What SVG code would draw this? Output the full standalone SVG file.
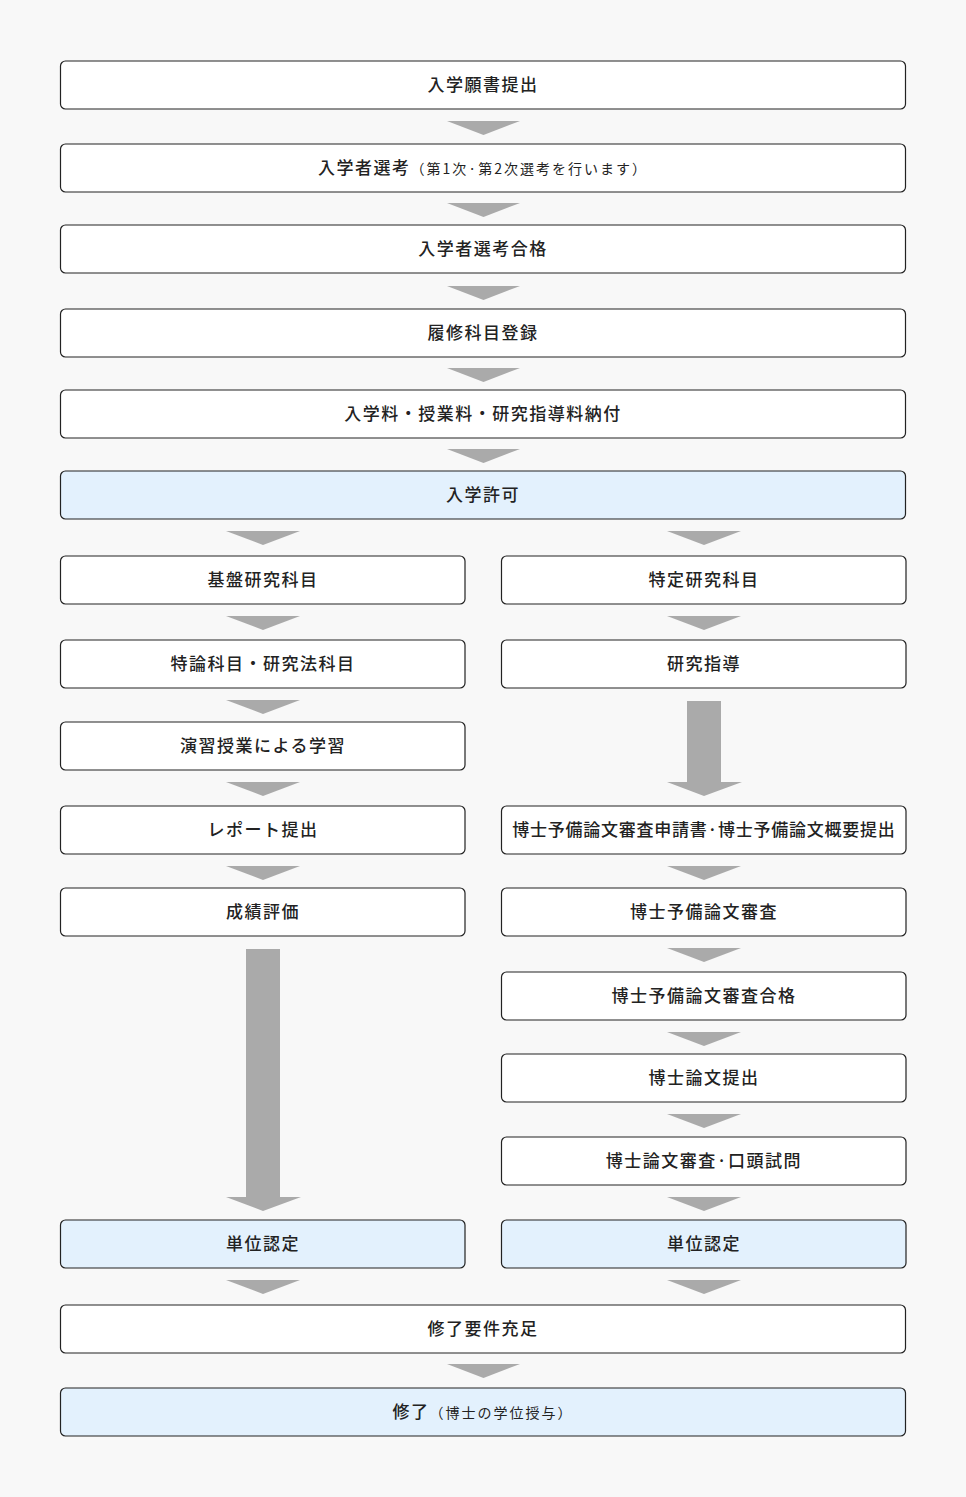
<svg xmlns="http://www.w3.org/2000/svg" width="966" height="1497" viewBox="0 0 966 1497">
<style>
.b{fill:#fff;stroke:#222;stroke-width:1.2}
.h{fill:#e3f1fd;stroke:#222;stroke-width:1.2}
.t{font-family:"Noto Sans CJK JP","Noto Sans",sans-serif;font-size:17px;font-weight:500;fill:#222;text-anchor:middle;letter-spacing:1.5px}
.s{font-size:14px;font-weight:400;letter-spacing:2px}
.a{fill:#aaa}
</style>
<rect width="966" height="1497" fill="#f8f8f8"/>
<g id="connectors">
<polygon class="a" points="447,121 520,121 483.5,135"/>
<polygon class="a" points="447,203 520,203 483.5,217"/>
<polygon class="a" points="447,286 520,286 483.5,300"/>
<polygon class="a" points="447,368 520,368 483.5,382"/>
<polygon class="a" points="447,449 520,449 483.5,463"/>
<polygon class="a" points="226,531 300,531 263,545"/>
<polygon class="a" points="667,531 741,531 704,545"/>
<polygon class="a" points="226,616 300,616 263,630"/>
<polygon class="a" points="667,616 741,616 704,630"/>
<polygon class="a" points="226,700 300,700 263,714"/>
<polygon class="a" points="226,782 300,782 263,796"/>
<polygon class="a" points="687,701 721,701 721,782 742,782 704,796 667,782 687,782"/>
<polygon class="a" points="226,866 300,866 263,880"/>
<polygon class="a" points="667,866 741,866 704,880"/>
<polygon class="a" points="246,949 280,949 280,1197 301,1197 263,1211 226,1197 246,1197"/>
<polygon class="a" points="667,948 741,948 704,962"/>
<polygon class="a" points="667,1032 741,1032 704,1046"/>
<polygon class="a" points="667,1114 741,1114 704,1128"/>
<polygon class="a" points="667,1197 741,1197 704,1211"/>
<polygon class="a" points="226,1280 300,1280 263,1294"/>
<polygon class="a" points="667,1280 741,1280 704,1294"/>
<polygon class="a" points="447,1364 520,1364 483.5,1378"/>
</g>
<g id="n1"><rect class="b" x="60.5" y="61" width="845" height="48" rx="5"/><text class="t" x="483" y="91">入学願書提出</text></g>
<g id="n2"><rect class="b" x="60.5" y="144" width="845" height="48" rx="5"/><text class="t" x="483" y="174">入学者選考<tspan class="s">（第1次·第2次選考を行います）</tspan></text></g>
<g id="n3"><rect class="b" x="60.5" y="225" width="845" height="48" rx="5"/><text class="t" x="483" y="255">入学者選考合格</text></g>
<g id="n4"><rect class="b" x="60.5" y="309" width="845" height="48" rx="5"/><text class="t" x="483" y="339">履修科目登録</text></g>
<g id="n5"><rect class="b" x="60.5" y="390" width="845" height="48" rx="5"/><text class="t" x="483" y="420">入学料・授業料・研究指導料納付</text></g>
<g id="n6"><rect class="h" x="60.5" y="471" width="845" height="48" rx="5"/><text class="t" x="483" y="501">入学許可</text></g>
<g id="l1"><rect class="b" x="60.5" y="556" width="404.5" height="48" rx="5"/><text class="t" x="263" y="586">基盤研究科目</text></g>
<g id="l2"><rect class="b" x="60.5" y="640" width="404.5" height="48" rx="5"/><text class="t" x="263" y="670">特論科目・研究法科目</text></g>
<g id="l3"><rect class="b" x="60.5" y="722" width="404.5" height="48" rx="5"/><text class="t" x="263" y="752">演習授業による学習</text></g>
<g id="l4"><rect class="b" x="60.5" y="806" width="404.5" height="48" rx="5"/><text class="t" x="263" y="836">レポート提出</text></g>
<g id="l5"><rect class="b" x="60.5" y="888" width="404.5" height="48" rx="5"/><text class="t" x="263" y="918">成績評価</text></g>
<g id="l6"><rect class="h" x="60.5" y="1220" width="404.5" height="48" rx="5"/><text class="t" x="263" y="1250">単位認定</text></g>
<g id="r1"><rect class="b" x="501.5" y="556" width="404.5" height="48" rx="5"/><text class="t" x="704" y="586">特定研究科目</text></g>
<g id="r2"><rect class="b" x="501.5" y="640" width="404.5" height="48" rx="5"/><text class="t" x="704" y="670">研究指導</text></g>
<g id="r3"><rect class="b" x="501.5" y="806" width="404.5" height="48" rx="5"/><text class="t" x="704" y="836" style="letter-spacing:0.75px">博士予備論文審査申請書·博士予備論文概要提出</text></g>
<g id="r4"><rect class="b" x="501.5" y="888" width="404.5" height="48" rx="5"/><text class="t" x="704" y="918">博士予備論文審査</text></g>
<g id="r5"><rect class="b" x="501.5" y="972" width="404.5" height="48" rx="5"/><text class="t" x="704" y="1002">博士予備論文審査合格</text></g>
<g id="r6"><rect class="b" x="501.5" y="1054" width="404.5" height="48" rx="5"/><text class="t" x="704" y="1084">博士論文提出</text></g>
<g id="r7"><rect class="b" x="501.5" y="1137" width="404.5" height="48" rx="5"/><text class="t" x="704" y="1167">博士論文審査·口頭試問</text></g>
<g id="r8"><rect class="h" x="501.5" y="1220" width="404.5" height="48" rx="5"/><text class="t" x="704" y="1250">単位認定</text></g>
<g id="n7"><rect class="b" x="60.5" y="1305" width="845" height="48" rx="5"/><text class="t" x="483" y="1335">修了要件充足</text></g>
<g id="n8"><rect class="h" x="60.5" y="1388" width="845" height="48" rx="5"/><text class="t" x="483" y="1418">修了<tspan class="s">（博士の学位授与）</tspan></text></g>
</svg>
